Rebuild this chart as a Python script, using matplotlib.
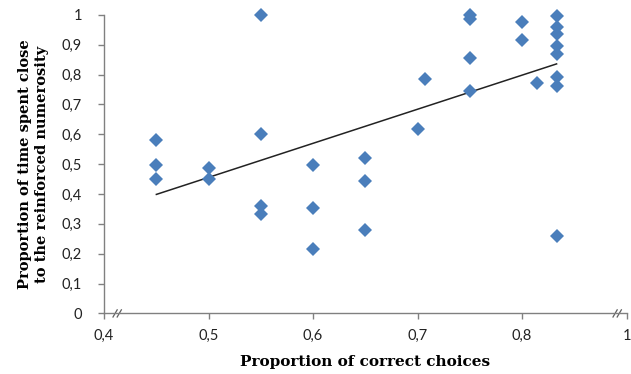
import numpy as np
import matplotlib
matplotlib.use('Agg')
import matplotlib.pyplot as plt

# proportion of correct choices (x) vs proportion of time spent close (y)
correct = [0.45, 0.45, 0.45, 0.50, 0.50,
           0.55, 0.55, 0.55, 0.55,
           0.60, 0.60, 0.60,
           0.65, 0.65, 0.65,
           0.70, 0.707,
           0.75, 0.75, 0.75, 0.75,
           0.80, 0.80, 0.814,
           0.833, 0.833, 0.833, 0.833, 0.833, 0.833, 0.833, 0.833]
time_close = [0.58, 0.498, 0.45, 0.486, 0.452,
              0.999, 0.60, 0.359, 0.332,
              0.498, 0.353, 0.215,
              0.522, 0.442, 0.281,
              0.618, 0.784,
              0.999, 0.985, 0.855, 0.745,
              0.975, 0.917, 0.772,
              0.998, 0.96, 0.935, 0.895, 0.87, 0.793, 0.762, 0.261]

x_ticks = [0.4, 0.5, 0.6, 0.7, 0.8, 0.9]
x_tick_labels = ["0,4", "0,5", "0,6", "0,7", "0,8", "1"]
y_ticks = [0, 0.1, 0.2, 0.3, 0.4, 0.5, 0.6, 0.7, 0.8, 0.9, 1.0]
y_tick_labels = ["0", "0,1", "0,2", "0,3", "0,4", "0,5", "0,6", "0,7", "0,8", "0,9", "1"]

fig = plt.figure(figsize=(6.31, 3.74), dpi=100)
ax = fig.add_axes([0.165, 0.162, 0.828, 0.798])

ax.plot(correct, time_close, linestyle="none", marker="D", markersize=7,
        color="#4a7ebb", markeredgewidth=0, zorder=3, clip_on=False)

# linear trend line over the data range
slope, intercept = np.polyfit(correct, time_close, 1)
xs = np.array([min(correct), max(correct)])
ax.plot(xs, slope * xs + intercept, color="#222222", linewidth=1.1, zorder=2)

ax.set_xlim(0.4, 0.9)
ax.set_ylim(0, 1)
ax.set_xticks(x_ticks)
ax.set_xticklabels(x_tick_labels)
ax.set_yticks(y_ticks)
ax.set_yticklabels(y_tick_labels)

for side in ["top", "right"]:
    ax.spines[side].set_visible(False)
for side in ["left", "bottom"]:
    ax.spines[side].set_color("#808080")
    ax.spines[side].set_linewidth(1.0)
ax.tick_params(axis="both", direction="out", length=4, width=1, color="#808080",
               labelsize=10.5, labelcolor="#222222")
ax.tick_params(axis="y", pad=12)
ax.tick_params(axis="x", pad=7)
for lbl in ax.get_xticklabels() + ax.get_yticklabels():
    lbl.set_family("Lato")

# axis break marks
for x0 in [0.017, 0.974]:
    for dx in [0.0, 0.008]:
        ax.plot([x0 + dx, x0 + dx + 0.008], [-0.012, 0.012], transform=ax.transAxes,
                color="#606060", linewidth=0.9, clip_on=False)

ax.set_xlabel("Proportion of correct choices", fontsize=11, fontweight="bold",
              family="DejaVu Serif", labelpad=9)
ax.set_ylabel("Proportion of time spent close\nto the reinforced numerosity", fontsize=10.5,
              fontweight="bold", family="DejaVu Serif", labelpad=9, linespacing=1.3)

fig.savefig("out.png", dpi=100)
